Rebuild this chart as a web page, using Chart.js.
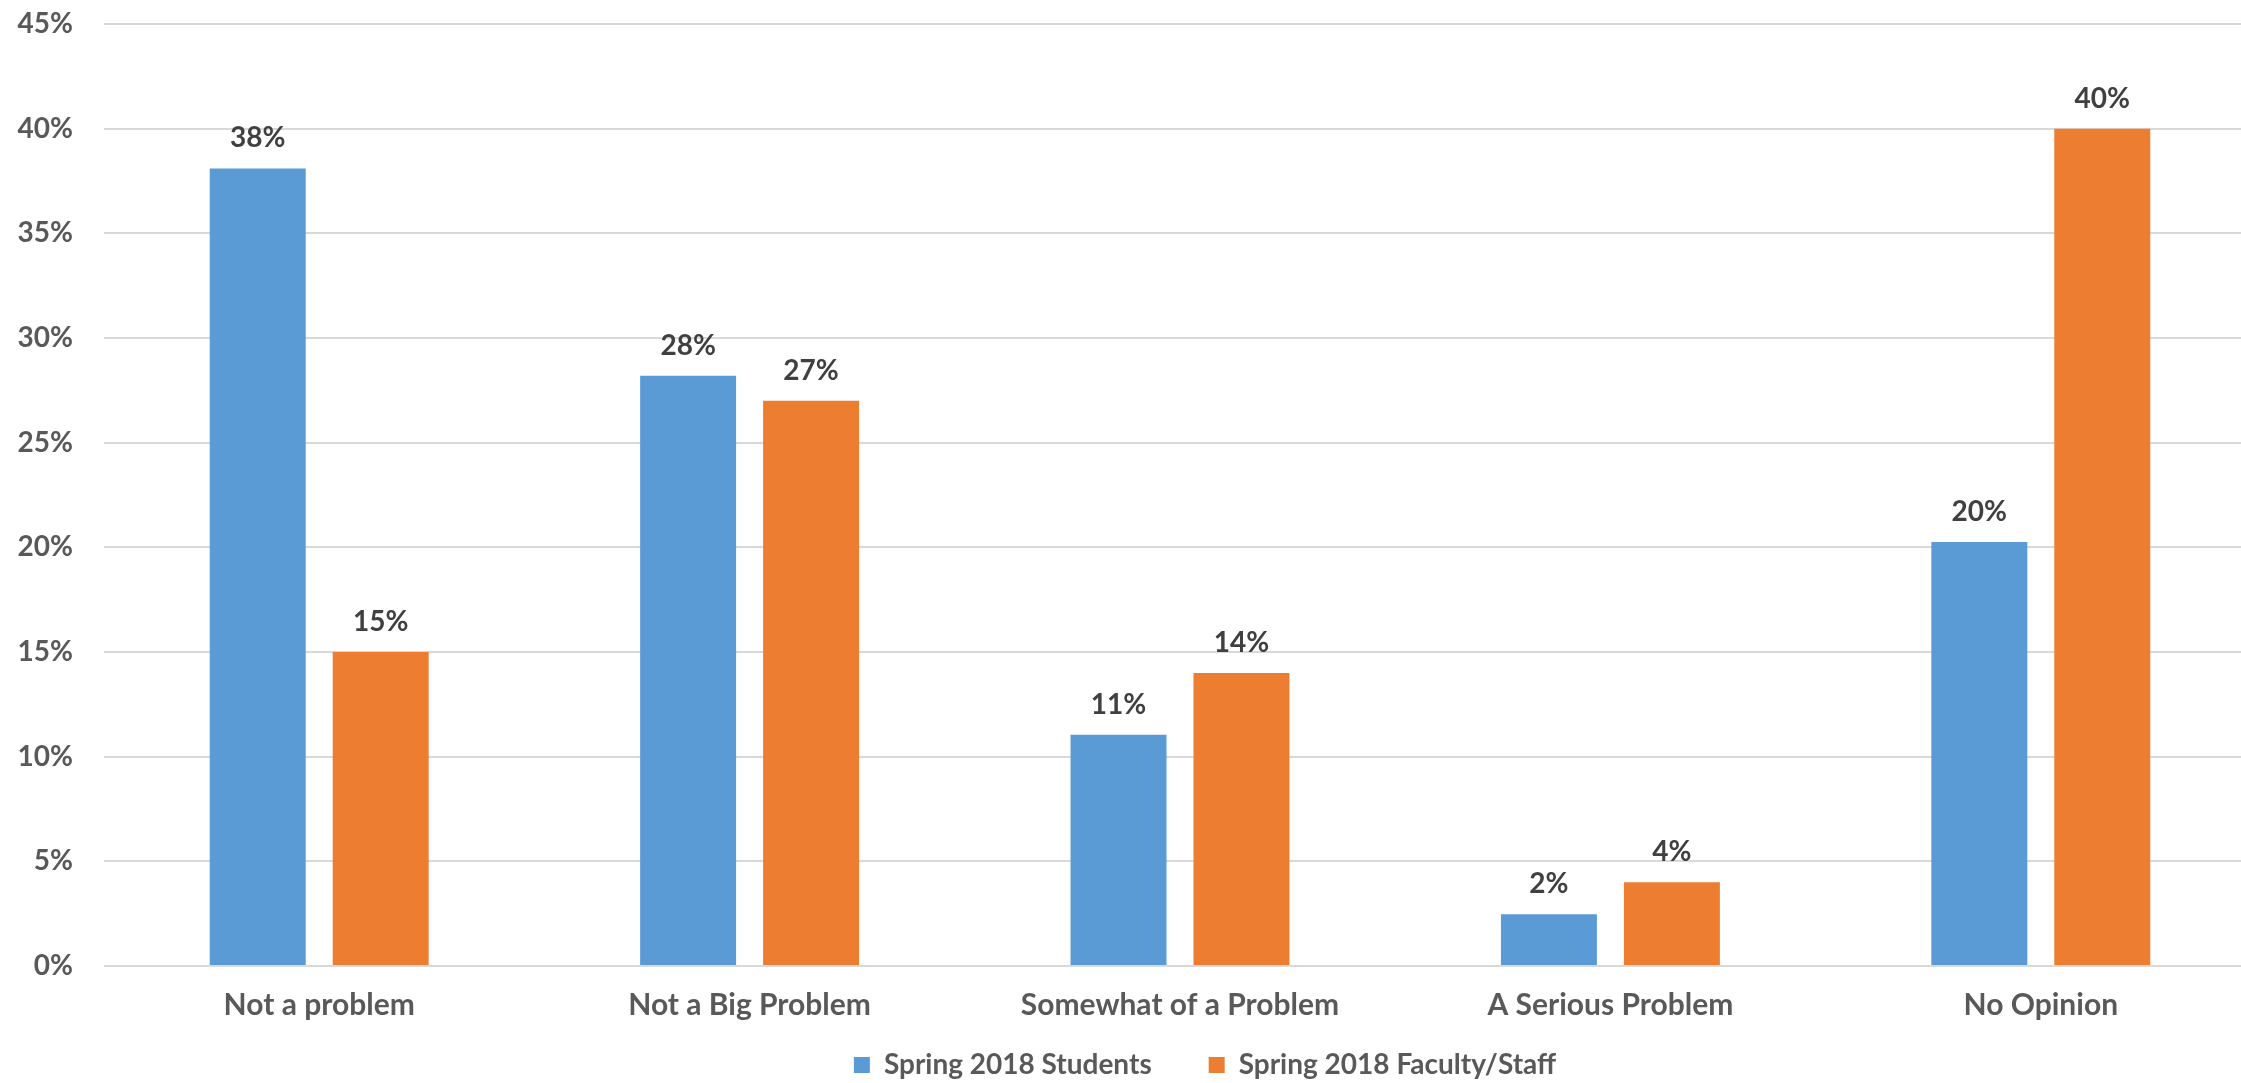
<!DOCTYPE html>
<html>
<head>
<meta charset="utf-8">
<script src="https://cdn.jsdelivr.net/npm/chart.js@4.4.1/dist/chart.umd.min.js"></script>
<style>
  html, body { margin: 0; padding: 0; background: #fff; overflow: hidden; }
  #wrap { position: absolute; left: 0; top: 0; }
</style>
</head>
<body>
<div id="wrap"><canvas id="c" width="2256" height="1083"></canvas></div>
<script>
const categories = ["Not a problem", "Not a Big Problem", "Somewhat of a Problem", "A Serious Problem", "No Opinion"];
const seriesNames = ["Spring 2018 Students", "Spring 2018 Faculty/Staff"];
const students = [38.1, 28.2, 11.05, 2.47, 20.25];
const facultyStaff = [15, 27, 14, 4, 40];
const yTicks = [0, 5, 10, 15, 20, 25, 30, 35, 40, 45];

const FONT = 'Lato';

const dataLabels = {
  id: 'dataLabels',
  afterDatasetsDraw(chart) {
    const ctx = chart.ctx;
    ctx.save();
    ctx.font = 'bold 28px ' + FONT;
    ctx.fillStyle = '#404040';
    ctx.textAlign = 'center';
    ctx.textBaseline = 'alphabetic';
    chart.data.datasets.forEach((ds, i) => {
      chart.getDatasetMeta(i).data.forEach((bar, j) => {
        ctx.fillText(Math.round(ds.data[j]) + '%', bar.x, bar.y - 21);
      });
    });
    ctx.restore();
  }
};

const legendPlace = {
  id: 'legendPlace',
  afterLayout(chart) {
    const lg = chart.legend;
    if (lg) {
      lg.left += 77; lg.right += 77;
      lg.top = 994; lg.bottom = chart.height; lg.height = lg.bottom - lg.top;
    }
  }
};

function draw() {
  Chart.defaults.font.family = FONT;
  Chart.defaults.font.weight = 'bold';
  Chart.defaults.font.size = 28;
  Chart.defaults.color = '#595959';

  new Chart(document.getElementById('c'), {
    type: 'bar',
    data: {
      labels: categories,
      datasets: [
        { label: seriesNames[0], data: students, backgroundColor: '#5B9BD5',
          categoryPercentage: 0.5714, barPercentage: 0.7805 },
        { label: seriesNames[1], data: facultyStaff, backgroundColor: '#ED7D31',
          categoryPercentage: 0.5714, barPercentage: 0.7805 }
      ]
    },
    options: {
      responsive: false,
      animation: false,
      devicePixelRatio: 1,
      layout: { padding: { top: 24, left: 0, right: 0, bottom: 0 } },
      plugins: {
        legend: {
          position: 'bottom',
          maxHeight: 47,
          labels: {
            boxWidth: 16, boxHeight: 16, padding: 57,
            color: '#595959',
            font: { family: FONT, size: 28, weight: 'bold' }
          }
        },
        tooltip: { enabled: false }
      },
      scales: {
        x: {
          grid: { display: false, drawTicks: false },
          border: { display: false },
          ticks: { padding: 21, color: '#595959', font: { family: FONT, size: 30, weight: 'bold' }, maxRotation: 0, autoSkip: false },
          afterFit(scale) { scale.height = 70; }
        },
        y: {
          min: 0, max: 45,
          afterBuildTicks(scale) { scale.ticks = yTicks.map(v => ({ value: v })); },
          grid: { color: '#d9d9d9', lineWidth: 2, drawTicks: true, tickLength: 31, tickColor: 'rgba(0,0,0,0)' },
          border: { display: false },
          ticks: { padding: 0, color: '#595959', font: { family: FONT, size: 28, weight: 'bold' },
                   callback: v => v + '%' },
          afterFit(scale) { scale.width = 104; }
        }
      }
    },
    plugins: [dataLabels, legendPlace]
  });
}

if (document.fonts && document.fonts.load) {
  document.fonts.load('bold 28px ' + FONT).then(draw, draw);
} else {
  draw();
}
</script>
</body>
</html>
